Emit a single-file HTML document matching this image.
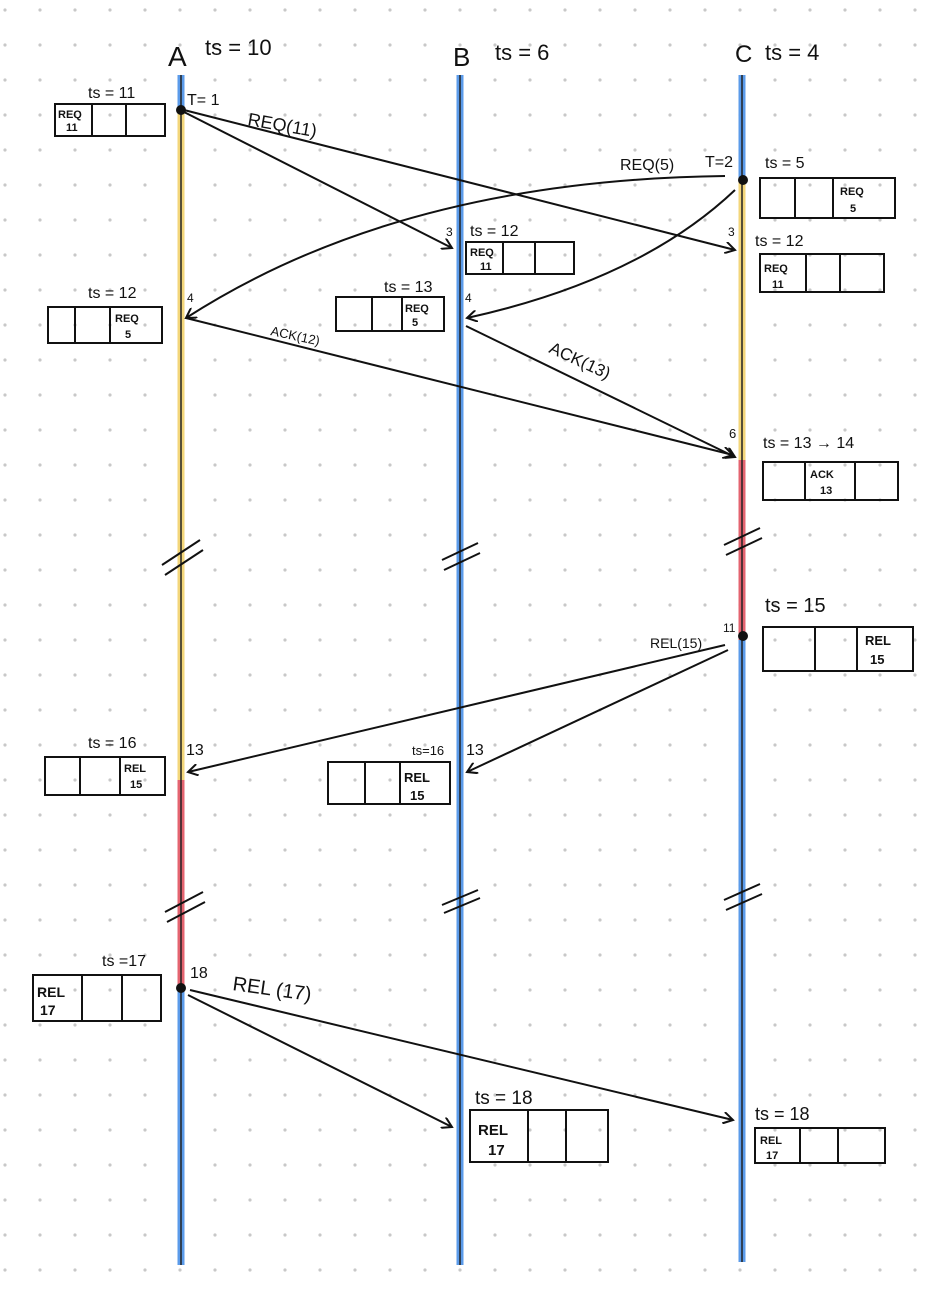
<!DOCTYPE html>
<html><head><meta charset="utf-8"><style>
html,body{margin:0;padding:0;background:#fff}
svg{display:block}
text{font-family:"Liberation Sans",sans-serif;fill:#111}
</style></head><body>
<svg width="946" height="1301" xmlns="http://www.w3.org/2000/svg">
<defs>
<pattern id="g" width="35" height="35" patternUnits="userSpaceOnUse" x="-12.5" y="-7.5">
<circle cx="17.5" cy="17.5" r="1.6" fill="#c8c8c8"/></pattern>
<marker id="ar" markerWidth="12" markerHeight="12" refX="10" refY="6" orient="auto" markerUnits="userSpaceOnUse">
<path d="M0,0 L10,6 L0,12" fill="none" stroke="#111" stroke-width="2"/></marker>
</defs>
<rect width="946" height="1301" fill="url(#g)"/>
<!-- timelines -->
<g stroke-width="7">
<line x1="181" y1="75" x2="181" y2="1265" stroke="#5b9bea"/>
<line x1="181" y1="110" x2="181" y2="780" stroke="#f3d67a"/>
<line x1="181" y1="780" x2="181" y2="988" stroke="#e46470"/>
<line x1="460" y1="75" x2="460" y2="1265" stroke="#5b9bea"/>
<line x1="742" y1="75" x2="742" y2="1262" stroke="#5b9bea"/>
<line x1="742" y1="180" x2="742" y2="460" stroke="#f3d67a"/>
<line x1="742" y1="460" x2="742" y2="640" stroke="#e46470"/>
</g>
<g stroke="#222" stroke-width="1.5">
<line x1="181" y1="75" x2="181" y2="1265"/><line x1="460" y1="75" x2="460" y2="1265"/><line x1="742" y1="75" x2="742" y2="1262"/>
</g>
<!-- break marks -->
<g stroke="#111" stroke-width="2" fill="none">
<path d="M162,565 L200,540 M165,575 L203,550"/>
<path d="M442,560 L478,543 M444,570 L480,553"/>
<path d="M724,545 L760,528 M726,555 L762,538"/>
<path d="M165,912 L203,892 M167,922 L205,902"/>
<path d="M442,905 L478,890 M444,913 L480,898"/>
<path d="M724,900 L760,884 M726,910 L762,894"/>
</g>
<!-- dots -->
<g fill="#111"><circle cx="181" cy="110" r="5"/><circle cx="743" cy="180" r="5"/><circle cx="743" cy="636" r="5"/><circle cx="181" cy="988" r="5"/></g>
<!-- arrows -->
<g stroke="#111" stroke-width="2" fill="none" marker-end="url(#ar)">
<path d="M184,112 L452,248"/>
<path d="M184,110 L735,250"/>
<path d="M725,176 Q400,180 186,318"/>
<path d="M735,190 Q640,280 467,318"/>
<path d="M186,318 L733,455"/>
<path d="M466,326 L735,457"/>
<path d="M725,645 L188,772"/>
<path d="M728,650 L467,772"/>
<path d="M188,995 L452,1127"/>
<path d="M190,990 L733,1120"/>
</g>
<!-- labels -->
<g font-size="22">
<text x="168" y="66" font-size="28">A</text><text x="205" y="55">ts = 10</text>
<text x="453" y="66" font-size="26">B</text><text x="495" y="60">ts = 6</text>
<text x="735" y="62" font-size="24">C</text><text x="765" y="60">ts = 4</text>
</g>
<g font-size="16">
<text x="187" y="105">T= 1</text>
<text x="247" y="125" font-size="18" transform="rotate(10 247 125)">REQ(11)</text>
<text x="620" y="170">REQ(5)</text>
<text x="705" y="167">T=2</text>
<text x="765" y="168">ts = 5</text>
<text x="446" y="236" font-size="12">3</text>
<text x="728" y="236" font-size="12">3</text>
<text x="187" y="302" font-size="12">4</text>
<text x="465" y="302" font-size="12">4</text>
<text x="270" y="335" font-size="13" transform="rotate(12 270 335)">ACK(12)</text>
<text x="548" y="352" font-size="17" transform="rotate(25 548 352)">ACK(13)</text>
<text x="729" y="438" font-size="13">6</text>
<text x="763" y="448">ts = 13 → 14</text>
<text x="765" y="612" font-size="20">ts = 15</text>
<text x="723" y="632" font-size="12">11</text>
<text x="650" y="648" font-size="14">REL(15)</text>
<text x="186" y="755">13</text>
<text x="466" y="755">13</text>
<text x="88" y="748">ts = 16</text>
<text x="412" y="755" font-size="13">ts=16</text>
<text x="190" y="978">18</text>
<text x="232" y="990" font-size="20" transform="rotate(8 232 990)">REL (17)</text>
<text x="102" y="966">ts =17</text>
<text x="88" y="98">ts = 11</text>
<text x="470" y="236">ts = 12</text>
<text x="755" y="246">ts = 12</text>
<text x="88" y="298">ts = 12</text>
<text x="384" y="292">ts = 13</text>
<text x="475" y="1104" font-size="19">ts = 18</text>
<text x="755" y="1120" font-size="18">ts = 18</text>
</g>
<!-- queue boxes -->
<g stroke="#111" stroke-width="2" fill="none">
<rect x="55" y="104" width="110" height="32"/><line x1="92" y1="104" x2="92" y2="136"/><line x1="126" y1="104" x2="126" y2="136"/>
<rect x="760" y="178" width="135" height="40"/><line x1="795" y1="178" x2="795" y2="218"/><line x1="833" y1="178" x2="833" y2="218"/>
<rect x="466" y="242" width="108" height="32"/><line x1="503" y1="242" x2="503" y2="274"/><line x1="535" y1="242" x2="535" y2="274"/>
<rect x="760" y="254" width="124" height="38"/><line x1="806" y1="254" x2="806" y2="292"/><line x1="840" y1="254" x2="840" y2="292"/>
<rect x="48" y="307" width="114" height="36"/><line x1="75" y1="307" x2="75" y2="343"/><line x1="110" y1="307" x2="110" y2="343"/>
<rect x="336" y="297" width="108" height="34"/><line x1="372" y1="297" x2="372" y2="331"/><line x1="402" y1="297" x2="402" y2="331"/>
<rect x="763" y="462" width="135" height="38"/><line x1="805" y1="462" x2="805" y2="500"/><line x1="855" y1="462" x2="855" y2="500"/>
<rect x="763" y="627" width="150" height="44"/><line x1="815" y1="627" x2="815" y2="671"/><line x1="857" y1="627" x2="857" y2="671"/>
<rect x="45" y="757" width="120" height="38"/><line x1="80" y1="757" x2="80" y2="795"/><line x1="120" y1="757" x2="120" y2="795"/>
<rect x="328" y="762" width="122" height="42"/><line x1="365" y1="762" x2="365" y2="804"/><line x1="400" y1="762" x2="400" y2="804"/>
<rect x="33" y="975" width="128" height="46"/><line x1="82" y1="975" x2="82" y2="1021"/><line x1="122" y1="975" x2="122" y2="1021"/>
<rect x="470" y="1110" width="138" height="52"/><line x1="528" y1="1110" x2="528" y2="1162"/><line x1="566" y1="1110" x2="566" y2="1162"/>
<rect x="755" y="1128" width="130" height="35"/><line x1="800" y1="1128" x2="800" y2="1163"/><line x1="838" y1="1128" x2="838" y2="1163"/>
</g>
<g font-size="11" font-weight="bold">
<text x="58" y="118">REQ</text><text x="66" y="131">11</text>
<text x="840" y="195">REQ</text><text x="850" y="212">5</text>
<text x="470" y="256">REQ</text><text x="480" y="270">11</text>
<text x="764" y="272">REQ</text><text x="772" y="288">11</text>
<text x="115" y="322">REQ</text><text x="125" y="338">5</text>
<text x="405" y="312">REQ</text><text x="412" y="326">5</text>
<text x="810" y="478">ACK</text><text x="820" y="494">13</text>
<text x="865" y="645" font-size="13">REL</text><text x="870" y="664" font-size="13">15</text>
<text x="124" y="772">REL</text><text x="130" y="788">15</text>
<text x="404" y="782" font-size="13">REL</text><text x="410" y="800" font-size="13">15</text>
<text x="37" y="997" font-size="14">REL</text><text x="40" y="1015" font-size="14">17</text>
<text x="478" y="1135" font-size="15">REL</text><text x="488" y="1155" font-size="15">17</text>
<text x="760" y="1144">REL</text><text x="766" y="1159">17</text>
</g>
</svg>
</body></html>
